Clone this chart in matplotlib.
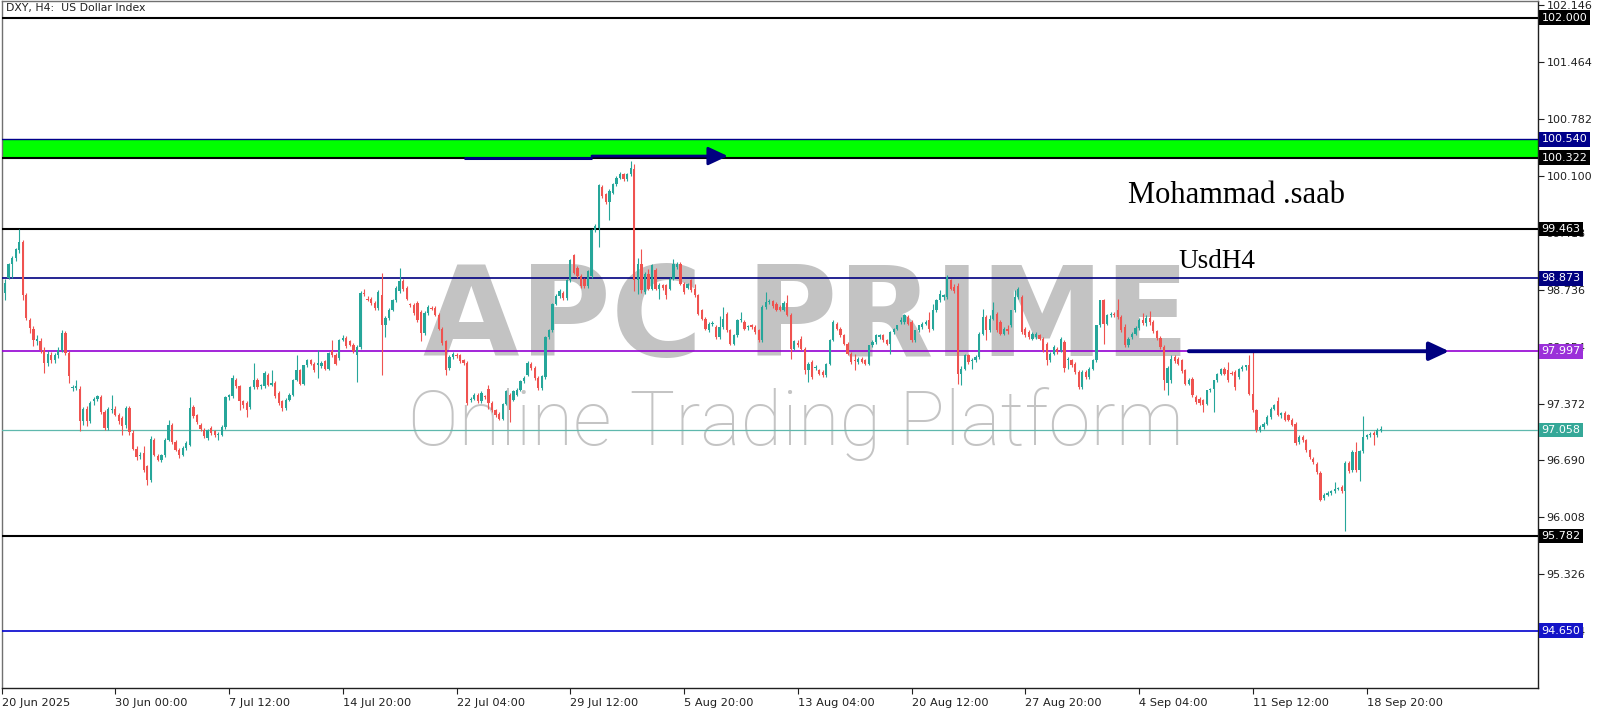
import matplotlib
matplotlib.use("Agg")
import matplotlib.pyplot as plt
import numpy as np

# ---------------- data (H4 candles) ----------------
opens = [
98.70, 98.88, 99.04, 99.12, 99.21, 99.31, 98.67, 98.38, 98.27, 98.12,
98.12, 98.02, 97.86, 97.96, 97.89, 97.95, 98.02, 98.22, 97.98, 97.56,
97.56, 97.55, 97.16, 97.31, 97.16, 97.40, 97.43, 97.45, 97.27, 97.08,
97.30, 97.31, 97.24, 97.20, 97.12, 97.32, 97.02, 96.83, 96.74, 96.78,
96.62, 96.46, 96.93, 96.74, 96.70, 96.75, 96.94, 97.12, 96.91, 96.82,
96.76, 96.84, 96.88, 97.33, 97.23, 97.12, 97.06, 96.96, 97.08, 97.04,
96.99, 97.00, 97.09, 97.45, 97.46, 97.66, 97.58, 97.40, 97.38, 97.33,
97.57, 97.66, 97.58, 97.58, 97.72, 97.60, 97.62, 97.50, 97.40, 97.32,
97.42, 97.48, 97.66, 97.77, 97.61, 97.83, 97.89, 97.85, 97.84, 97.82,
97.88, 97.79, 98.00, 97.96, 97.92, 98.14, 98.16, 98.12, 98.08, 97.96,
98.05, 98.70, 98.63, 98.63, 98.58, 98.52, 98.67, 98.31, 98.40, 98.50,
98.61, 98.72, 98.84, 98.76, 98.56, 98.56, 98.58, 98.47, 98.22, 98.46,
98.52, 98.52, 98.44, 98.27, 98.12, 97.80, 97.93, 97.95, 97.95, 97.89,
97.86, 97.42, 97.43, 97.48, 97.40, 97.46, 97.55, 97.38, 97.29, 97.25,
97.19, 97.37, 97.48, 97.42, 97.48, 97.54, 97.64, 97.72, 97.85, 97.80,
97.68, 97.56, 97.69, 98.17, 98.25, 98.57, 98.66, 98.70, 98.64, 98.85,
99.15, 99.00, 98.90, 98.86, 98.78, 98.90, 99.45, 99.48, 99.97, 99.88,
99.79, 99.90, 100.00, 100.08, 100.12, 100.06, 100.12, 100.19, 98.85, 99.05,
98.71, 98.93, 98.75, 98.97, 98.75, 98.79, 98.79, 98.75, 98.87, 99.01,
99.05, 98.81, 98.76, 98.85, 98.74, 98.67, 98.49, 98.39, 98.25, 98.33,
98.29, 98.17, 98.29, 98.45, 98.25, 98.09, 98.19, 98.37, 98.35, 98.29,
98.31, 98.29, 98.25, 98.13, 98.53, 98.59, 98.60, 98.57, 98.53, 98.50,
98.58, 98.44, 98.03, 98.10, 98.15, 98.03, 97.77, 97.87, 97.80, 97.77,
97.75, 97.71, 97.85, 98.14, 98.33, 98.27, 98.19, 98.09, 97.97, 97.89,
97.87, 97.91, 97.89, 97.85, 98.07, 98.11, 98.17, 98.19, 98.13, 98.09,
98.23, 98.27, 98.35, 98.35, 98.41, 98.35, 98.13, 98.25, 98.29, 98.33,
98.37, 98.27, 98.49, 98.61, 98.65, 98.65, 98.85, 98.77, 98.78, 97.73,
97.79, 97.95, 97.88, 97.89, 97.93, 98.21, 98.41, 98.25, 98.39, 98.45,
98.35, 98.21, 98.27, 98.31, 98.49, 98.65, 98.65, 98.27, 98.23, 98.15,
98.17, 98.19, 98.15, 98.09, 97.89, 97.97, 98.03, 98.01, 98.11, 97.89,
97.89, 97.85, 97.75, 97.57, 97.75, 97.69, 97.79, 97.89, 98.31, 98.61,
98.33, 98.43, 98.45, 98.49, 98.41, 98.29, 98.07, 98.17, 98.21, 98.28,
98.38, 98.34, 98.40, 98.35, 98.24, 98.16, 98.05, 97.62, 97.65, 97.93,
97.91, 97.89, 97.77, 97.61, 97.67, 97.45, 97.43, 97.41, 97.37, 97.53,
97.55, 97.65, 97.73, 97.79, 97.77, 97.74, 97.75, 97.69, 97.79, 97.81,
97.83, 97.49, 97.29, 97.05, 97.09, 97.13, 97.21, 97.31, 97.40, 97.24,
97.26, 97.23, 97.18, 97.13, 96.91, 96.97, 96.93, 96.81, 96.71, 96.65,
96.54, 96.24, 96.28, 96.30, 96.32, 96.35, 96.37, 96.32, 96.66, 96.57,
96.79, 96.57, 96.80, 96.97, 96.99, 97.02, 96.99, 97.05,
]
highs = [
98.86, 99.06, 99.14, 99.24, 99.46, 99.33, 98.70, 98.40, 98.30, 98.20,
98.16, 98.05, 98.00, 97.99, 97.98, 98.05, 98.25, 98.24, 98.00, 97.60,
97.66, 97.58, 97.33, 97.34, 97.40, 97.45, 97.48, 97.47, 97.30, 97.33,
97.47, 97.34, 97.26, 97.22, 97.34, 97.34, 97.05, 96.86, 96.79, 96.86,
96.64, 96.98, 96.96, 96.77, 96.77, 96.96, 97.18, 97.14, 96.93, 96.84,
96.86, 96.92, 97.45, 97.36, 97.25, 97.14, 97.08, 97.07, 97.10, 97.06,
97.03, 97.11, 97.46, 97.49, 97.72, 97.68, 97.60, 97.42, 97.40, 97.58,
97.86, 97.68, 97.61, 97.76, 97.74, 97.78, 97.64, 97.52, 97.42, 97.44,
97.50, 97.67, 97.95, 97.79, 97.84, 97.91, 97.91, 97.87, 98.01, 97.88,
97.90, 97.99, 98.14, 97.98, 98.15, 98.20, 98.18, 98.14, 98.10, 98.07,
98.72, 98.75, 98.66, 98.65, 98.60, 98.73, 98.94, 98.42, 98.52, 98.63,
98.78, 99.00, 98.86, 98.78, 98.58, 98.58, 98.60, 98.49, 98.48, 98.55,
98.54, 98.54, 98.46, 98.29, 98.14, 97.95, 97.99, 97.98, 97.97, 97.91,
97.88, 97.45, 97.50, 97.50, 97.52, 97.48, 97.60, 97.40, 97.31, 97.27,
97.38, 97.53, 97.50, 97.53, 97.56, 97.66, 97.70, 97.88, 97.87, 97.82,
97.70, 97.72, 98.18, 98.27, 98.58, 98.68, 98.74, 98.72, 98.86, 99.10,
99.17, 99.02, 98.92, 98.88, 98.97, 99.47, 99.52, 100.00, 99.99, 99.90,
99.94, 100.02, 100.10, 100.15, 100.14, 100.14, 100.28, 100.25, 99.12, 99.23,
98.95, 98.98, 99.05, 99.00, 98.82, 98.81, 98.81, 98.89, 99.11, 99.07,
99.07, 98.83, 98.82, 98.87, 98.80, 98.69, 98.51, 98.41, 98.35, 98.36,
98.31, 98.42, 98.53, 98.47, 98.27, 98.21, 98.39, 98.47, 98.37, 98.32,
98.33, 98.31, 98.27, 98.56, 98.71, 98.63, 98.62, 98.59, 98.55, 98.60,
98.67, 98.46, 98.14, 98.13, 98.18, 98.05, 97.87, 97.89, 97.83, 97.79,
97.77, 97.86, 98.15, 98.37, 98.35, 98.29, 98.21, 98.11, 97.99, 97.97,
97.93, 97.93, 97.91, 98.08, 98.13, 98.21, 98.21, 98.21, 98.15, 98.24,
98.28, 98.32, 98.41, 98.45, 98.43, 98.37, 98.26, 98.32, 98.35, 98.37,
98.47, 98.57, 98.63, 98.73, 98.69, 98.91, 98.87, 98.80, 98.82, 97.82,
97.97, 97.97, 97.92, 97.95, 98.23, 98.51, 98.43, 98.43, 98.59, 98.47,
98.37, 98.29, 98.31, 98.50, 98.73, 98.77, 98.67, 98.29, 98.25, 98.23,
98.23, 98.21, 98.17, 98.11, 97.99, 98.07, 98.05, 98.17, 98.13, 97.93,
97.91, 97.87, 97.77, 97.77, 97.77, 97.81, 97.91, 98.32, 98.62, 98.63,
98.45, 98.47, 98.47, 98.63, 98.43, 98.33, 98.17, 98.23, 98.30, 98.40,
98.46, 98.44, 98.48, 98.37, 98.26, 98.18, 98.07, 97.82, 97.95, 97.96,
97.93, 97.91, 97.79, 97.68, 97.69, 97.47, 97.45, 97.43, 97.54, 97.56,
97.66, 97.74, 97.80, 97.81, 97.87, 97.76, 97.77, 97.80, 97.83, 97.84,
97.95, 98.00, 97.31, 97.11, 97.15, 97.23, 97.33, 97.37, 97.45, 97.27,
97.28, 97.25, 97.20, 97.15, 96.99, 96.99, 96.95, 96.83, 96.73, 96.67,
96.56, 96.30, 96.32, 96.34, 96.43, 96.37, 96.39, 96.68, 96.68, 96.81,
96.91, 96.82, 97.22, 97.01, 97.03, 97.04, 97.08, 97.10,
]
lows = [
98.62, 98.86, 98.88, 99.08, 99.18, 98.62, 98.37, 98.22, 98.06, 98.08,
97.98, 97.74, 97.82, 97.86, 97.86, 97.92, 97.99, 97.95, 97.62, 97.52,
97.53, 97.04, 97.12, 97.10, 97.14, 97.36, 97.40, 97.25, 97.06, 97.05,
97.26, 97.22, 97.13, 97.00, 97.08, 97.00, 96.81, 96.70, 96.71, 96.55,
96.40, 96.43, 96.74, 96.68, 96.67, 96.73, 96.92, 96.89, 96.80, 96.72,
96.74, 96.82, 96.86, 97.20, 97.13, 97.04, 96.96, 96.93, 97.00, 96.97,
96.94, 96.98, 97.07, 97.42, 97.44, 97.56, 97.30, 97.32, 97.21, 97.31,
97.55, 97.55, 97.55, 97.56, 97.58, 97.58, 97.44, 97.36, 97.28, 97.30,
97.40, 97.46, 97.64, 97.59, 97.59, 97.81, 97.83, 97.75, 97.68, 97.80,
97.77, 97.77, 97.93, 97.83, 97.90, 98.12, 98.04, 98.06, 97.98, 97.63,
98.03, 98.66, 98.60, 98.56, 98.50, 98.50, 97.71, 98.17, 98.38, 98.48,
98.59, 98.70, 98.72, 98.61, 98.53, 98.44, 98.35, 98.12, 98.20, 98.44,
98.49, 98.42, 98.25, 98.08, 97.72, 97.78, 97.91, 97.92, 97.86, 97.84,
97.36, 97.39, 97.41, 97.38, 97.38, 97.43, 97.31, 97.27, 97.21, 97.17,
97.17, 97.35, 97.15, 97.40, 97.46, 97.52, 97.62, 97.70, 97.78, 97.66,
97.54, 97.54, 97.67, 98.15, 98.23, 98.55, 98.64, 98.62, 98.62, 98.83,
98.92, 98.88, 98.76, 98.76, 98.76, 98.88, 99.43, 99.25, 99.84, 99.77,
99.57, 99.88, 99.98, 100.06, 100.04, 100.04, 100.10, 98.72, 98.68, 98.70,
98.68, 98.73, 98.73, 98.73, 98.63, 98.73, 98.63, 98.73, 98.85, 98.99,
98.79, 98.69, 98.74, 98.71, 98.65, 98.43, 98.37, 98.25, 98.23, 98.30,
98.15, 98.15, 98.27, 98.23, 98.07, 98.07, 98.17, 98.35, 98.25, 98.26,
98.27, 98.21, 98.11, 98.11, 98.51, 98.57, 98.52, 98.48, 98.48, 98.48,
98.42, 97.91, 98.01, 98.05, 98.01, 97.73, 97.63, 97.67, 97.77, 97.71,
97.69, 97.69, 97.83, 98.12, 98.25, 98.17, 98.07, 97.95, 97.85, 97.77,
97.85, 97.86, 97.83, 97.83, 98.05, 98.09, 98.15, 98.11, 98.07, 97.97,
98.21, 98.25, 98.33, 98.33, 98.31, 98.11, 98.11, 98.23, 98.27, 98.31,
98.23, 98.25, 98.47, 98.59, 98.61, 98.63, 98.73, 98.70, 97.61, 97.59,
97.77, 97.85, 97.79, 97.87, 97.91, 98.19, 98.13, 98.23, 98.37, 98.23,
98.19, 98.19, 98.21, 98.29, 98.47, 98.63, 98.21, 98.17, 98.15, 98.13,
98.15, 98.13, 97.99, 97.83, 97.87, 97.95, 97.97, 97.99, 97.75, 97.79,
97.81, 97.73, 97.55, 97.55, 97.67, 97.67, 97.77, 97.87, 98.29, 98.09,
98.31, 98.41, 98.41, 98.39, 98.23, 98.05, 98.05, 98.15, 98.19, 98.26,
98.32, 98.30, 98.32, 98.22, 98.14, 98.03, 97.53, 97.48, 97.62, 97.86,
97.83, 97.74, 97.59, 97.59, 97.45, 97.37, 97.36, 97.27, 97.35, 97.51,
97.27, 97.63, 97.71, 97.71, 97.63, 97.71, 97.53, 97.67, 97.76, 97.77,
97.47, 97.27, 97.03, 97.03, 97.07, 97.11, 97.19, 97.29, 97.22, 97.20,
97.16, 97.16, 97.10, 96.88, 96.89, 96.91, 96.79, 96.71, 96.65, 96.53,
96.20, 96.22, 96.26, 96.28, 96.30, 96.33, 96.30, 95.84, 96.54, 96.55,
96.55, 96.44, 96.78, 96.95, 96.97, 96.88, 96.97, 97.03,
]
closes = [
98.82, 99.04, 99.12, 99.22, 99.31, 98.67, 98.40, 98.28, 98.13, 98.15,
98.02, 97.86, 97.97, 97.90, 97.95, 98.02, 98.22, 97.98, 97.70, 97.57,
97.58, 97.16, 97.31, 97.16, 97.38, 97.43, 97.46, 97.27, 97.08, 97.31,
97.31, 97.24, 97.16, 97.10, 97.32, 97.03, 96.83, 96.73, 96.76, 96.58,
96.45, 96.95, 96.76, 96.70, 96.75, 96.94, 97.12, 96.91, 96.82, 96.76,
96.84, 96.90, 97.32, 97.22, 97.15, 97.07, 96.98, 97.06, 97.02, 96.99,
97.00, 97.09, 97.45, 97.47, 97.68, 97.58, 97.40, 97.36, 97.30, 97.57,
97.66, 97.57, 97.59, 97.74, 97.60, 97.62, 97.46, 97.38, 97.32, 97.42,
97.48, 97.66, 97.77, 97.61, 97.83, 97.89, 97.85, 97.77, 97.86, 97.86,
97.79, 97.98, 97.95, 97.85, 98.14, 98.16, 98.06, 98.08, 98.00, 98.05,
98.70, 98.68, 98.62, 98.58, 98.52, 98.71, 98.31, 98.40, 98.50, 98.61,
98.76, 98.84, 98.74, 98.63, 98.55, 98.46, 98.37, 98.22, 98.46, 98.53,
98.51, 98.44, 98.27, 98.10, 97.78, 97.93, 97.97, 97.94, 97.88, 97.86,
97.38, 97.43, 97.48, 97.40, 97.50, 97.45, 97.38, 97.29, 97.23, 97.19,
97.37, 97.52, 97.30, 97.52, 97.54, 97.64, 97.68, 97.86, 97.80, 97.68,
97.56, 97.70, 98.17, 98.25, 98.57, 98.66, 98.72, 98.64, 98.85, 99.09,
98.94, 98.90, 98.78, 98.78, 98.96, 99.45, 99.50, 99.99, 99.86, 99.79,
99.92, 100.00, 100.08, 100.13, 100.06, 100.12, 100.20, 98.85, 99.05, 98.73,
98.93, 98.75, 99.03, 98.75, 98.79, 98.76, 98.67, 98.87, 99.05, 99.05,
98.81, 98.71, 98.80, 98.73, 98.67, 98.45, 98.39, 98.27, 98.33, 98.33,
98.17, 98.29, 98.39, 98.25, 98.09, 98.19, 98.37, 98.39, 98.27, 98.29,
98.29, 98.23, 98.13, 98.53, 98.59, 98.60, 98.54, 98.50, 98.50, 98.58,
98.44, 98.03, 98.12, 98.07, 98.03, 97.77, 97.85, 97.69, 97.81, 97.73,
97.71, 97.85, 98.14, 98.35, 98.27, 98.19, 98.09, 97.97, 97.87, 97.88,
97.91, 97.87, 97.85, 98.07, 98.11, 98.19, 98.19, 98.13, 98.09, 98.23,
98.27, 98.31, 98.37, 98.43, 98.33, 98.13, 98.25, 98.31, 98.33, 98.35,
98.27, 98.49, 98.61, 98.69, 98.67, 98.89, 98.75, 98.72, 97.73, 97.79,
97.95, 97.87, 97.90, 97.93, 98.21, 98.41, 98.25, 98.39, 98.49, 98.25,
98.21, 98.27, 98.24, 98.49, 98.65, 98.75, 98.23, 98.19, 98.17, 98.21,
98.21, 98.15, 98.01, 97.89, 97.97, 98.05, 97.99, 98.15, 97.80, 97.91,
97.83, 97.75, 97.57, 97.75, 97.69, 97.79, 97.89, 98.31, 98.61, 98.33,
98.43, 98.45, 98.44, 98.41, 98.25, 98.07, 98.15, 98.21, 98.28, 98.38,
98.34, 98.40, 98.35, 98.24, 98.16, 98.05, 97.65, 97.80, 97.91, 97.88,
97.85, 97.76, 97.61, 97.65, 97.47, 97.39, 97.38, 97.35, 97.53, 97.55,
97.65, 97.73, 97.79, 97.73, 97.65, 97.73, 97.57, 97.79, 97.81, 97.83,
97.49, 97.29, 97.05, 97.09, 97.13, 97.21, 97.31, 97.35, 97.24, 97.26,
97.18, 97.18, 97.12, 96.90, 96.97, 96.93, 96.81, 96.73, 96.67, 96.55,
96.22, 96.28, 96.30, 96.32, 96.35, 96.35, 96.32, 96.66, 96.56, 96.79,
96.57, 96.80, 96.97, 96.99, 97.01, 96.99, 97.05, 97.06,
]

# horizontal levels (price, colour, line width in pt)
level_prices = [102.000, 100.540, 100.322, 99.463, 98.873, 97.997, 97.058, 95.782, 94.650]
level_colors = ["#000000", "#00008b", "#000000", "#000000", "#000080", "#9400d3",
                "#5fb8ad", "#000000", "#0000cd"]
level_widths = [1.5, 1.0, 1.5, 1.5, 1.2, 1.2, 0.9, 1.5, 1.2]
label_colors = ["#000000", "#00008b", "#000000", "#000000", "#000080", "#9b30d9",
                "#35a898", "#000000", "#1414c8"]
zone_low, zone_high = 100.322, 100.540

ytick_values = [102.146, 101.464, 100.782, 100.100, 99.418, 98.736, 98.054,
                97.372, 96.690, 96.008, 95.326, 94.644]
xtick_bars = [-0.84, 31, 63, 95, 127, 159, 191, 223, 255, 287, 319, 351, 383]
xtick_labels = ["20 Jun 2025", "30 Jun 00:00", "7 Jul 12:00", "14 Jul 20:00",
                "22 Jul 04:00", "29 Jul 12:00", "5 Aug 20:00", "13 Aug 04:00",
                "20 Aug 12:00", "27 Aug 20:00", "4 Sep 04:00", "11 Sep 12:00",
                "18 Sep 20:00"]

# arrows: (start bar, end bar, price)
arrow1_line = (129.1, 165.1, 100.318)
arrow1_head = (165.1, 203.3, 100.340)
arrow2 = (333.0, 406.2, 98.000)

# ---------------- figure ----------------
W, H = 1600, 711
fig = plt.figure(figsize=(W / 100, H / 100), dpi=100)
fig.patch.set_facecolor("white")
L_PX, R_PX, T_PX, B_PX = 2, 1538, 1, 688
ax = fig.add_axes([L_PX / W, 1 - B_PX / H, (R_PX - L_PX) / W, (B_PX - T_PX) / H])
ax.set_facecolor("white")
ax.set_xlim(-0.84, 431.2)
ax.set_ylim(93.962, 102.199)

n = min(len(opens), len(highs), len(lows), len(closes))
o = np.array(opens[:n]); h = np.array(highs[:n]); l = np.array(lows[:n]); c = np.array(closes[:n])
x = np.arange(n)
up = c >= o
cols = np.where(up, "#26a69a", "#ef5350")
lo_w = np.minimum(l, np.minimum(o, c))
hi_w = np.maximum(h, np.maximum(o, c))
ax.vlines(x, lo_w, hi_w, colors=cols, lw=0.8, zorder=4)
body_b = np.minimum(o, c)
body_h = np.maximum(np.abs(c - o), 0.012)
ax.bar(x, body_h, width=0.64, bottom=body_b, color=cols, linewidth=0, zorder=5)

# green zone and levels
ax.axhspan(zone_low, zone_high, color="#00ff00", zorder=2, lw=0)
for p, col, lw in zip(level_prices, level_colors, level_widths):
    ax.axhline(p, color=col, lw=lw, zorder=3)

# arrows
navy = "#000080"
ax.plot([arrow1_line[0], arrow1_line[1]], [arrow1_line[2]] * 2, color=navy, lw=2.2,
        solid_capstyle="butt", zorder=6)
ax.annotate("", xy=(arrow1_head[1], arrow1_head[2]), xytext=(arrow1_head[0], arrow1_head[2]),
            arrowprops=dict(arrowstyle="-|>,head_length=0.6,head_width=0.28", color=navy,
                            lw=2.0, shrinkA=0, shrinkB=0, mutation_scale=20), zorder=6)
ax.annotate("", xy=(arrow2[1], arrow2[2]), xytext=(arrow2[0], arrow2[2]),
            arrowprops=dict(arrowstyle="-|>,head_length=0.6,head_width=0.28", color=navy,
                            lw=2.8, shrinkA=0, shrinkB=0, mutation_scale=20), zorder=6)

# watermark (behind candles)
wm1 = ax.text(806 / W, 1 - 322 / H, "APC PRIME", transform=fig.transFigure, ha="center",
              va="center", fontsize=90, fontweight="bold", family="DejaVu Sans",
              color="#c3c3c3", zorder=1)
wm2 = ax.text(796 / W, 1 - 424 / H, "Online Trading Platform", transform=fig.transFigure,
              ha="center", va="center", fontsize=48, fontweight="light", family="Roboto",
              color="#c4c4c4", zorder=1)

# annotations
fig.text(1237 / W, 1 - 203 / H, "Mohammad .saab", ha="center", va="baseline",
         family="Liberation Serif", fontsize=22, color="black")
fig.text(1217 / W, 1 - 268 / H, "UsdH4", ha="center", va="baseline",
         family="Liberation Serif", fontsize=19.5, color="black")
fig.text(6 / W, 1 - 3 / H, "DXY, H4:  US Dollar Index", ha="left", va="top",
         fontsize=7.8, color="#202020")

# axes
ax.yaxis.tick_right()
ax.set_yticks(ytick_values)
ax.set_yticklabels([f"{v:.3f}" for v in ytick_values])
ax.tick_params(axis="y", direction="out", length=4, pad=2, labelsize=8, colors="#202020")
ax.set_xticks(xtick_bars)
ax.set_xticklabels(xtick_labels, ha="left")
ax.tick_params(axis="x", direction="out", length=4, pad=3, labelsize=8.2, colors="#202020")
for s in ["left", "top"]:
    ax.spines[s].set_color("#707070")
    ax.spines[s].set_linewidth(1.0)
for s in ["right", "bottom"]:
    ax.spines[s].set_color("#202020")
    ax.spines[s].set_linewidth(1.0)

# price boxes on the right scale
ytr = ax.get_yaxis_transform()
for p, col in zip(level_prices, label_colors):
    ax.text(1.0024, p, f"{p:.3f}", transform=ytr, ha="left", va="center", fontsize=8,
            color="white", zorder=10, clip_on=False,
            bbox=dict(boxstyle="square,pad=0.2", fc=col, ec="none"))

# fit watermark widths
fig.canvas.draw()
r = fig.canvas.get_renderer()
for t, target in [(wm1, 766), (wm2, 776)]:
    bb = t.get_window_extent(r)
    t.set_fontsize(t.get_fontsize() * target / bb.width)

fig.savefig("out.png", dpi=100, facecolor="white")
